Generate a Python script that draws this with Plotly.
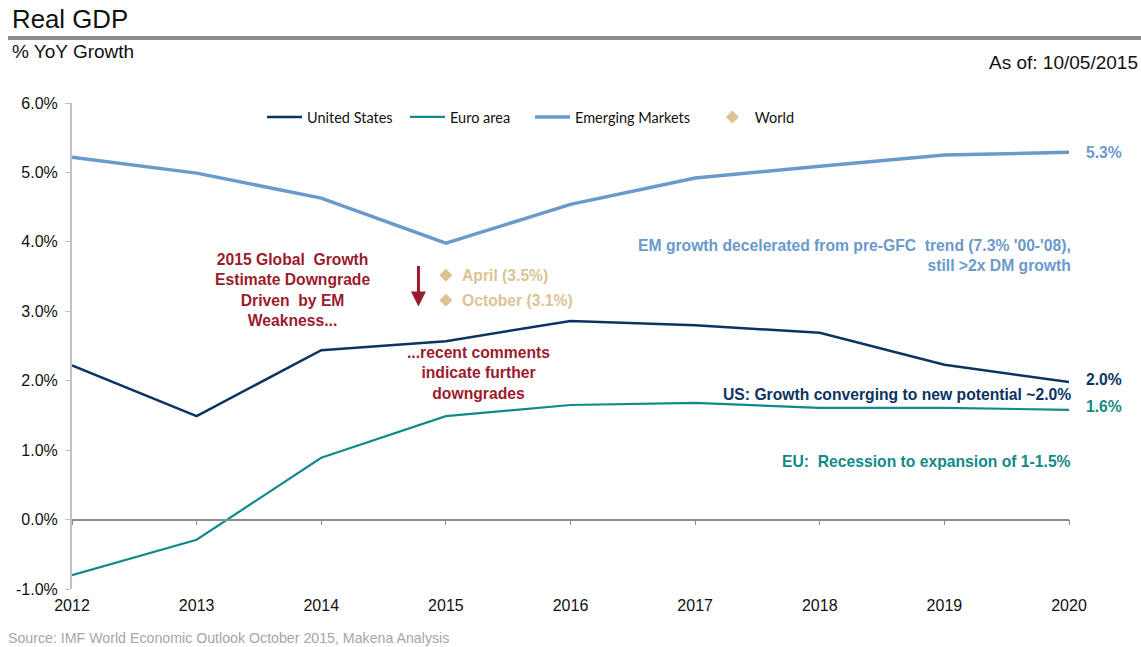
import plotly.graph_objects as go

years = [2012, 2013, 2014, 2015, 2016, 2017, 2018, 2019, 2020]
us = [2.22, 1.49, 2.44, 2.57, 2.86, 2.80, 2.69, 2.23, 1.98]
euro = [-0.80, -0.29, 0.89, 1.49, 1.65, 1.68, 1.61, 1.61, 1.58]
em = [5.22, 4.99, 4.63, 3.98, 4.54, 4.92, 5.09, 5.25, 5.29]
world_year = [2015, 2015]
world = [3.52, 3.16]
world_labels = ["April (3.5%)", "October (3.1%)"]
y_ticks = [-1, 0, 1, 2, 3, 4, 5, 6]
y_ticktext = ["-1.0%", "0.0%", "1.0%", "2.0%", "3.0%", "4.0%", "5.0%", "6.0%"]

C_US = "#0c3462"
C_EU = "#12898a"
C_EM = "#6a9acb"
C_W = "#dcc394"
C_RED = "#9b1c2e"

L, R, T, B = 72, 72, 103, 58
W, H = 1141, 647
PW, PH = W - L - R, H - T - B


def px(x):
    return (x - L) / PW


def py(y):
    return (H - B - y) / PH


NB = "\u00a0"

fig = go.Figure()
fig.add_trace(go.Scatter(x=years, y=us, mode="lines", name="United States" + NB * 2,
                         line=dict(color=C_US, width=2.5)))
fig.add_trace(go.Scatter(x=years, y=euro, mode="lines", name="Euro area" + NB * 4,
                         line=dict(color=C_EU, width=2.2)))
fig.add_trace(go.Scatter(x=years, y=em, mode="lines", name="Emerging Markets" + NB * 4,
                         line=dict(color=C_EM, width=3.5)))
fig.add_trace(go.Scatter(x=world_year, y=world, mode="markers", name="World",
                         marker=dict(symbol="diamond", color=C_W, size=10)))
# invisible trace to carry the zero-line axis
fig.add_trace(go.Scatter(x=years, y=[0] * len(years), xaxis="x2", mode="lines",
                         line=dict(width=0), showlegend=False, hoverinfo="skip"))

FS = 15.7
bold = dict(family="Liberation Sans", size=FS)

ann = []


def pa(x, y, text, font, xanchor="center", align="center"):
    ann.append(dict(x=px(x), y=py(y), xref="paper", yref="paper", showarrow=False,
                    xanchor=xanchor, yanchor="middle", text=text, align=align, font=font))


# world labels
for yy, lab in zip(world, world_labels):
    ann.append(dict(x=2015, y=yy, text="<b>%s</b>" % lab, xanchor="left", yanchor="middle",
                    xshift=14, showarrow=False, font=dict(bold, color=C_W)))
# arrow
ann.append(dict(x=2014.78, y=3.07, ax=0, ay=-42, text="", showarrow=True, arrowhead=2,
                arrowsize=1.0, arrowwidth=3, arrowcolor=C_RED))
pa(292, 290, "<b>2015 Global  Growth<br>Estimate Downgrade<br>Driven  by EM<br>Weakness...</b>",
   dict(bold, color=C_RED))
pa(478, 373, "<b>...recent comments<br>indicate further<br>downgrades</b>", dict(bold, color=C_RED))
pa(1073, 255, "<b>EM growth decelerated from pre-GFC  trend (7.3% '00-'08),<br>still >2x DM growth</b>",
   dict(bold, color=C_EM), xanchor="right", align="right")
pa(1073, 394, "<b>US: Growth converging to new potential ~2.0%</b>", dict(bold, color=C_US),
   xanchor="right")
pa(1073, 461, "<b>EU:  Recession to expansion of 1-1.5%</b>", dict(bold, color=C_EU),
   xanchor="right")
# end labels
for val, col, yp in [(em[-1], C_EM, 152), (us[-1], C_US, 379), (euro[-1], C_EU, 406)]:
    pa(1084, yp, "<b>%.1f%%</b>" % val, dict(bold, color=col), xanchor="left")
# titles
pa(10, 19, "Real GDP", dict(family="Liberation Sans", size=25.8, color="#111111"), xanchor="left")
pa(10, 51, "% YoY Growth", dict(family="Liberation Sans", size=19, color="#111111"), xanchor="left")
pa(1140, 63, "As of: 10/05/2015", dict(family="Liberation Sans", size=19, color="#111111"),
   xanchor="right")
pa(6, 638, "Source: IMF World Economic Outlook October 2015, Makena Analysis",
   dict(family="Liberation Sans", size=14.2, color="#a6a6a6"), xanchor="left")

fig.update_layout(
    width=W, height=H,
    margin=dict(l=L, r=R, t=T, b=B),
    paper_bgcolor="white", plot_bgcolor="white",
    font=dict(family="Liberation Sans", size=16, color="#111111"),
    showlegend=True,
    legend=dict(orientation="h", x=px(262), y=py(117), xanchor="left", yanchor="middle",
                font=dict(family="Lato", size=14.5, color="#111111"), itemwidth=35,
                bgcolor="rgba(0,0,0,0)", tracegroupgap=0),
    xaxis=dict(range=[2012, 2020], tickvals=years, ticktext=[str(y) for y in years],
               showgrid=False, zeroline=False, showline=False, ticks="",
               ticklabelstandoff=5, tickfont=dict(size=16, color="#111111")),
    xaxis2=dict(range=[2012, 2020], overlaying="x", anchor="free", position=1 / 7,
                tickvals=years, showticklabels=False, ticks="outside", ticklen=5,
                tickcolor="#8c8c8c", showline=True, linecolor="#8c8c8c", linewidth=1.5,
                showgrid=False, zeroline=False),
    yaxis=dict(range=[-1, 6], tickvals=y_ticks, ticktext=y_ticktext, showgrid=False,
               zeroline=False, showline=True, linecolor="#c0c0c0", linewidth=2,
               ticks="outside", ticklen=5, tickcolor="#c0c0c0", ticklabelstandoff=4,
               tickfont=dict(size=16, color="#111111")),
    annotations=ann,
    shapes=[dict(type="line", xref="paper", yref="paper", x0=px(8), x1=px(1141),
                 y0=py(38), y1=py(38), line=dict(color="#8e8b90", width=4))],
)

fig.write_html("out.html")
